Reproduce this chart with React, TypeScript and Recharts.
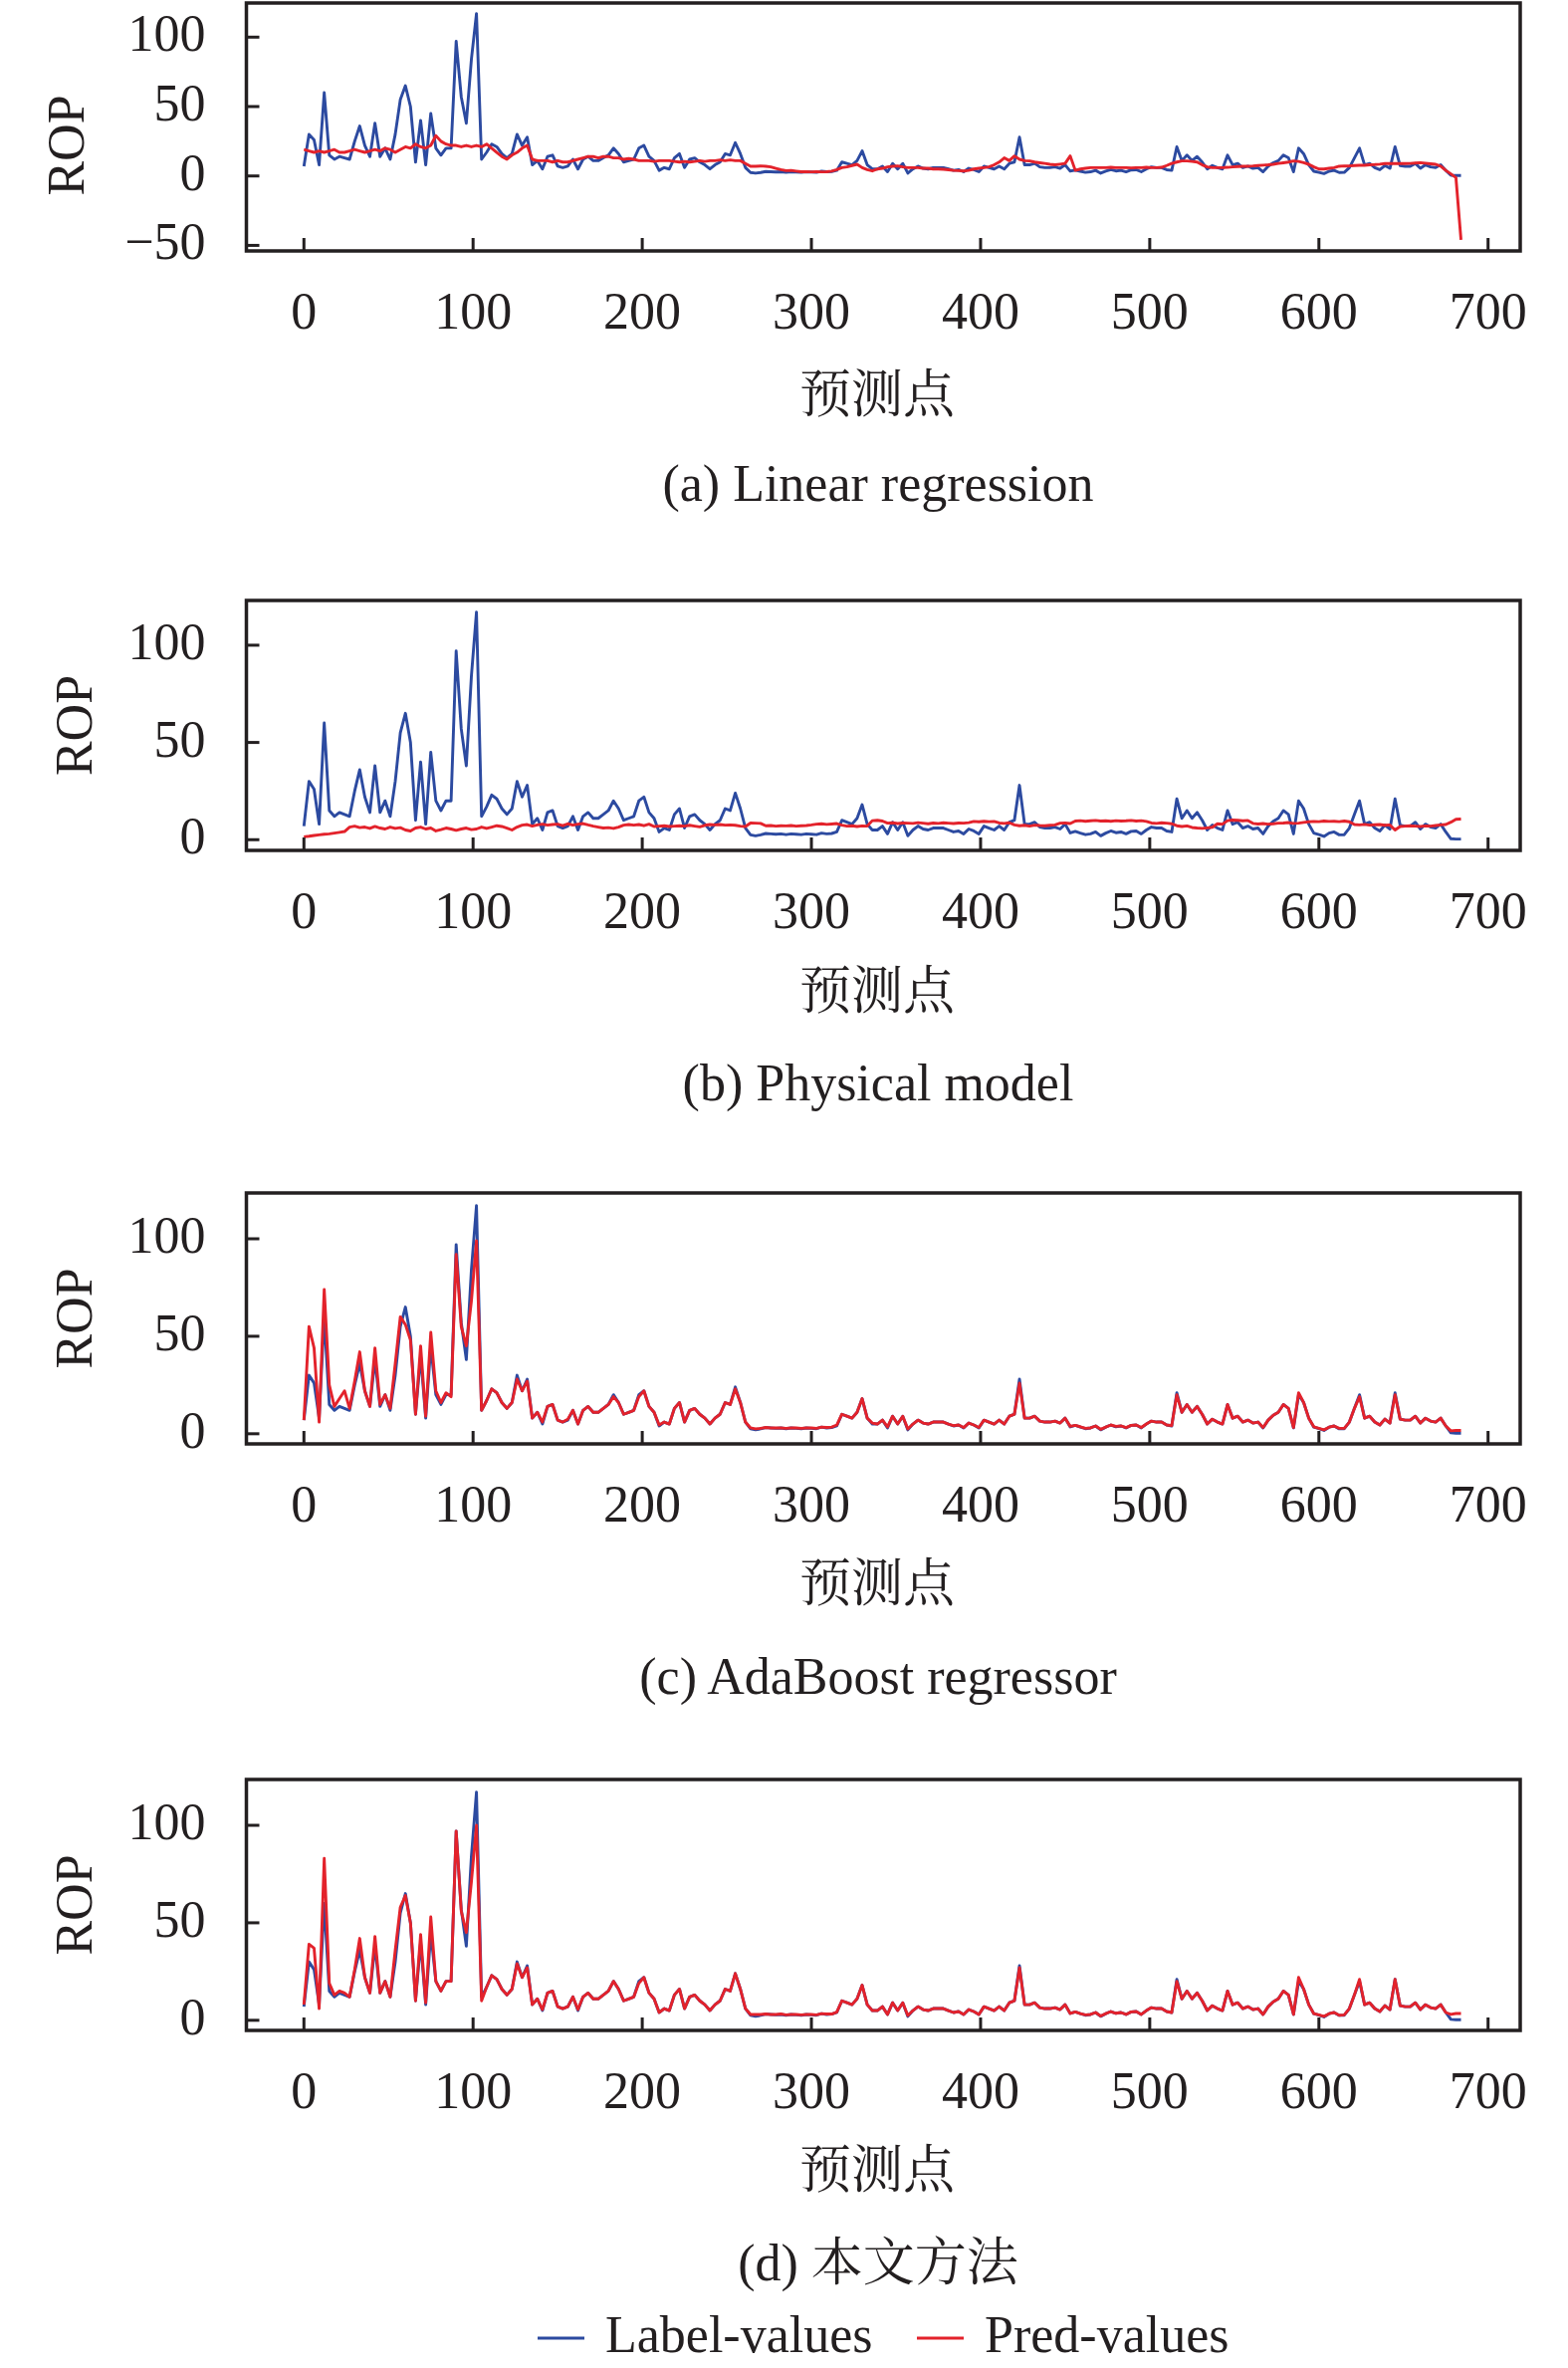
import React from 'react';
import { LineChart, Line, XAxis, YAxis, ReferenceArea, Legend } from 'recharts';

const STEP = 3;

const labelValues = [
  7, 30, 26, 8, 60, 15, 12, 14, 13, 12,
  25, 36, 22, 14, 38, 14, 20, 12, 30, 55,
  65, 50, 10, 40, 8, 45, 20, 15, 20, 20,
  97, 57, 38, 84, 117, 12, 17, 23, 21, 16,
  13, 16, 30, 22, 28, 8, 11, 5, 14, 15,
  7, 6, 7, 12, 5, 12, 14, 11, 11, 13,
  15, 20, 16, 10, 11, 12, 20, 22, 14, 11,
  4, 6, 5, 13, 16, 6, 12, 13, 10, 8,
  5, 8, 10, 16, 15, 24, 16, 6, 2.5, 2,
  2.5, 3.2, 3, 2.8, 3, 2.6, 3, 2.8, 2.6, 3,
  2.8, 2.6, 3.4, 3, 3.2, 4, 10, 9, 8, 11,
  18, 8, 5, 5, 7, 3, 9, 5, 9, 2,
  5, 7, 5.5, 5, 6, 6, 6, 5, 4, 4.5,
  3, 5.5, 4.5, 3, 7, 6, 5, 7, 5, 9,
  10, 28, 8, 8, 9, 6.5, 6, 6, 6.5, 5.5,
  8, 3.5, 4.3, 3.4, 2.6, 3, 4, 2, 3.4, 4.5,
  3.6, 4, 3, 4.3, 4.5, 3, 5, 6.5, 6, 6,
  4.5, 4, 21, 11, 15, 11, 14, 10, 5, 7.5,
  6, 5, 15, 8, 9, 6, 7, 5.5, 6, 3,
  7, 9.5, 11, 15, 13, 3, 20, 16, 8, 3.4,
  2.6, 1.7, 3.4, 4, 2.5, 2.6, 6, 13, 20, 8,
  9, 6, 4.5, 7.5, 5.5, 21, 7.5, 7, 7, 9,
  5.5, 8, 6.5, 6, 8, 4, 0.5, 0.3, 0.3,
];

const predLinear = [
  19, 18, 17, 18, 17, 18, 19, 17, 17, 18,
  19, 18, 17, 18, 19, 18, 20, 19, 17, 19,
  21, 20, 23, 21, 20, 22, 29, 25, 23, 22,
  22, 21, 22, 21, 22, 21, 23, 20, 17, 14,
  12, 15, 17, 20, 22, 12, 11, 11, 11, 10,
  11, 10, 10, 11, 12, 13, 14, 14, 13, 14,
  14, 13, 13, 12, 12.5, 12, 11, 11, 11, 10.5,
  11, 11, 11, 10.5, 10, 10.5, 10, 10.5, 11, 10.5,
  11, 11, 11.5, 11, 11.5, 11, 11, 9, 7, 7,
  7.2, 7, 6.5, 5.5, 4.5, 3.8, 4, 3.5, 3, 3,
  2.9, 3, 2.9, 3, 3.5, 4.5, 6, 6.5, 7.5, 8.4,
  6, 4.5, 3.6, 5, 5.5, 6.5, 7, 7.2, 6.5, 6,
  6, 6, 5.5, 5.5, 5, 5, 4.8, 4.5, 4, 3.8,
  3.6, 4, 5, 5.5, 6, 6.5, 8, 10, 13, 11,
  14.4, 12, 11, 10.8, 10, 9.5, 9, 8.4, 8, 8.5,
  9, 14.4, 4, 5, 5.5, 6, 6, 6, 6, 6.2,
  6, 6, 6, 5.8, 6, 6, 6.2, 6, 6, 6.2,
  7.5, 9, 10, 10.8, 10.8, 10.5, 10, 8, 6.5, 6,
  6, 6, 6.2, 6.5, 6.8, 7, 7, 7.2, 7.5, 7.8,
  8, 8.4, 9, 9.5, 10, 10.8, 10.5, 9.5, 8.4, 6.5,
  5, 5, 5.5, 6, 7, 7.2, 7.2, 7.5, 7.7, 7.7,
  8, 8.2, 8.5, 8.9, 8.9, 9, 8.9, 8.9, 9, 9.3,
  9.6, 9.2, 8.8, 8.4, 7, 4, 1.5, -1.2, -46,
];

const predPhysical = [
  1.5, 1.8, 2.2, 2.5, 2.8, 3, 3.4, 3.8, 4.2, 6.5,
  7, 6.2, 6.5, 5.8, 6.8, 6, 5.5, 6.5, 5.8, 6.2,
  5, 4.5, 6, 6.5, 5.5, 6, 4.5, 5.2, 6, 5.5,
  4.8, 5.5, 6, 5.2, 5.5, 6.5, 5.8, 6.5, 7.2, 6.8,
  6, 5, 6.5, 7.5, 7.8, 7, 7.6, 8, 7.5, 7.8,
  8, 7.2, 8.2, 7.5, 8, 8.3, 7.6, 7, 6.5, 6,
  6.2, 5.8, 6.5, 7.5, 7.8, 7.5, 7.8, 7.2, 8, 6.8,
  7, 7.2, 6.8, 7, 7.2, 7, 7.4, 7, 6.6, 7.4,
  7.8, 7.6, 7.8, 7.5, 7.6, 7.4, 7, 6.8, 8.6, 8.5,
  8.4, 7.2, 7.3, 7, 7.2, 7.1, 7.3, 7, 7.2, 7.3,
  7.6, 8, 8.2, 7.9, 8.1, 8.3, 7.5, 7, 7.2, 6.8,
  7.1, 7, 9.8, 10, 9.6, 8.5, 8.7, 8.3, 8.6, 8.5,
  8.4, 8.8, 8.5, 8.2, 8.6, 8.4, 8.7, 8.5, 8.3, 8.6,
  8.5, 8.8, 9.4, 9.2, 9.5, 9.3, 9.4, 8.6, 8.4, 8.7,
  7.6, 7.2, 7.4, 7, 7.5, 7.3, 7.2, 7.4, 7.6, 8.5,
  8.6, 8.3, 9.6, 9.8, 9.5, 9.7, 9.9, 9.6, 9.7, 9.5,
  9.8, 9.6, 9.7, 9.9, 9.6, 9.8, 9.4, 8.6, 8.4, 8.7,
  8.5, 8.2, 7.2, 6.8, 7.1, 6.3, 6, 5.8, 6.1, 6.4,
  8.2, 8, 9.8, 10.1, 10, 9.7, 9.9, 8.4, 8.1, 8.3,
  8, 8.2, 8.5, 8.6, 8.8, 8.4, 8.5, 8.9, 9.2, 9.4,
  9.3, 9.6, 9.4, 9.5, 9.3, 9.6, 9.2, 7.8, 7.6, 7.9,
  7.5, 7.7, 7.8, 7.4, 7.6, 5, 6.8, 7, 7.2, 7,
  6.8, 7.1, 7, 7.3, 7.6, 7.8, 9, 10.5, 10.6,
];

const predAdaBoost = [
  7, 55, 44, 6, 74, 25, 14, 18, 22, 13,
  27, 42, 22, 14, 44, 15, 20, 13, 36, 60,
  56, 48, 10, 45, 9, 52, 22, 16, 21, 19,
  92, 55, 45, 68, 99, 12, 17, 23, 21, 16,
  13, 16, 28, 22, 27, 8, 11, 6, 14, 15,
  7, 6, 7.5, 12, 5, 12, 14, 11, 11, 13,
  15, 19, 16, 10, 11, 12, 19, 22, 14, 11,
  4.5, 6, 5, 13, 16, 6, 12, 13, 10, 8,
  5, 8, 10, 16, 15, 23, 16, 6, 3, 2.5,
  2.8, 3.2, 3, 3, 3, 2.8, 3, 3, 2.8, 3,
  3, 2.8, 3.4, 3.2, 3.4, 4.5, 10, 9, 8, 11,
  18, 8, 5.5, 5, 7, 3.5, 9, 5, 9, 2.5,
  5, 7, 5.5, 5, 6, 6, 6, 5, 4.2, 4.5,
  3.2, 5.5, 4.5, 3.2, 7, 6, 5, 7, 5, 9,
  10, 26, 8, 8, 9, 6.5, 6, 6, 6.5, 5.5,
  8, 3.8, 4.3, 3.6, 2.8, 3, 4, 2.3, 3.4, 4.5,
  3.8, 4, 3.2, 4.3, 4.5, 3.2, 5, 6.5, 6, 6,
  4.5, 4.2, 20, 11, 15, 11, 14, 10, 5, 7.5,
  6, 5, 15, 8, 9, 6, 7, 5.5, 6, 3.2,
  7, 9.5, 11, 15, 13, 3.2, 21, 16, 8, 3.6,
  2.8, 2, 3.4, 4, 2.8, 2.8, 6, 13, 19, 8,
  9, 6, 4.5, 7.5, 5.5, 20, 7.5, 7, 7, 9,
  5.5, 8, 6.5, 6, 8, 4, 1.5, 1.7, 1.7,
];

const predOurs = [
  8, 39, 37, 6, 83, 19, 13, 15, 14, 12,
  26, 42, 22, 14, 43, 14, 20, 12, 36, 58,
  64, 50, 10, 44, 9, 53, 20, 15, 20, 20,
  97, 56, 45, 71, 100, 10, 17, 23, 21, 16,
  13, 16, 29, 22, 27, 8, 11, 5.5, 14, 15,
  7, 6, 7, 12, 5.5, 12, 14, 11, 11, 13,
  15, 20, 16, 10, 11, 12, 19, 22, 14, 11,
  4, 6, 5, 13, 16, 6, 12, 13, 10, 8,
  5, 8, 10, 16, 15, 24, 16, 6, 3, 3,
  3, 3.2, 3, 3, 3.2, 2.8, 3, 3, 2.8, 3,
  3, 2.8, 3.4, 3.2, 3.2, 4.2, 10, 9, 8, 11,
  18, 8, 5, 5, 7, 3, 9, 5, 9, 2.5,
  5, 7, 5.5, 5, 6, 6, 6, 5, 4, 4.5,
  3, 5.5, 4.5, 3, 7, 6, 5, 7, 5, 9,
  10, 27, 8, 8, 9, 6.5, 6, 6, 6.5, 5.5,
  8, 3.5, 4.3, 3.4, 2.8, 3, 4, 2.2, 3.4, 4.5,
  3.6, 4, 3, 4.3, 4.5, 3, 5, 6.5, 6, 6,
  4.5, 4, 20, 11, 15, 11, 14, 10, 5, 7.5,
  6, 5, 15, 8, 9, 6, 7, 5.5, 6, 3,
  7, 9.5, 11, 15, 13, 3, 22, 16, 8, 3.4,
  2.8, 2, 3.4, 4, 2.6, 2.8, 6, 13, 21, 8,
  9, 6, 4.5, 7.5, 5.5, 21, 7.5, 7, 7, 9,
  5.5, 8, 6.5, 6, 8, 4, 3, 3.5, 3.5,
];

const xTicks = [0, 100, 200, 300, 400, 500, 600, 700];
const yTicksA = [-50, 0, 50, 100];
const yTicksB = [0, 50, 100];
const captions = ['(a) Linear regression', '(b) Physical model', '(c) AdaBoost regressor', '(d) 本文方法'];
const xTitle = '预测点';
const yTitle = 'ROP';
const seriesNames = ['Label-values', 'Pred-values'];

const BLUE = '#2c4aa0';
const RED = '#e3222b';
const INK = '#231f20';
const SERIF = '"Liberation Serif", "Times New Roman", "Noto Serif CJK SC", "Noto Sans CJK SC", serif';
const FS = 52;

const panels = [
  { pred: predLinear, plotTop: 3, plotH: 249, yDomain: [-54, 124.6], yTicks: yTicksA, ropX: 66, ropY: 146, titleDy: 144, height: 560 },
  { pred: predPhysical, plotTop: 603, plotH: 251, yDomain: [-5.5, 123], yTicks: yTicksB, ropX: 74, ropY: 0, titleDy: 141, height: 560 },
  { pred: predAdaBoost, plotTop: 1197.5, plotH: 252, yDomain: [-5.2, 123.5], yTicks: yTicksB, ropX: 74, ropY: 0, titleDy: 140, height: 560 },
  { pred: predOurs, plotTop: 1787, plotH: 252, yDomain: [-5.2, 123.5], yTicks: yTicksB, ropX: 74, ropY: 0, titleDy: 140, height: 592 },
];

const MARGIN_TOP = 3;
const PLOT_LEFT = 247.5;
const PLOT_RIGHT = 1527;
const Y_AXIS_W = 100;
const X_AXIS_H = 30;

const XTick = (props: any) => {
  const { x, y, payload } = props;
  return (
    <g>
      <line x1={x} x2={x} y1={y} y2={y - 13} stroke={INK} strokeWidth={3} />
      <text x={x} y={y + 78} textAnchor="middle" fontFamily={SERIF} fontSize={FS} fill={INK}>
        {payload.value}
      </text>
    </g>
  );
};

const YTick = (props: any) => {
  const { x, y, payload } = props;
  const v = payload.value < 0 ? `\u2212${Math.abs(payload.value)}` : `${payload.value}`;
  return (
    <g>
      <line x1={x} x2={x + 13} y1={y} y2={y} stroke={INK} strokeWidth={3} />
      <text x={x - 41} y={y + 14} textAnchor="end" fontFamily={SERIF} fontSize={FS} fill={INK}>
        {v}
      </text>
    </g>
  );
};

const LegendBox = (props: any) => {
  const items = props.payload || [];
  const starts = [540, 921];
  return (
    <svg width={1575} height={74} style={{ display: 'block' }}>
      {items.map((it: any, i: number) => (
        <g key={it.value}>
          <line x1={starts[i]} x2={starts[i] + 47} y1={46} y2={46} stroke={it.color} strokeWidth={3} />
          <text x={starts[i] + 68} y={60} fontFamily={SERIF} fontSize={FS} fill={INK}>
            {it.value}
          </text>
        </g>
      ))}
    </svg>
  );
};

const Panel = ({ idx }: { idx: number }) => {
  const p = panels[idx];
  const rows = labelValues.map((v, i) => ({ x: i * STEP, label: v, pred: p.pred[i] }));
  const plotBottom = MARGIN_TOP + p.plotH;
  const ropY = p.ropY || MARGIN_TOP + p.plotH / 2;
  const isLast = idx === panels.length - 1;
  return (
    <div style={{ position: 'absolute', left: 0, top: p.plotTop - MARGIN_TOP }}>
      <LineChart
        width={1575}
        height={p.height}
        data={rows}
        margin={{
          top: MARGIN_TOP,
          right: 1575 - PLOT_RIGHT,
          left: PLOT_LEFT - Y_AXIS_W,
          bottom: p.height - MARGIN_TOP - p.plotH - X_AXIS_H,
        }}
      >
        <ReferenceArea
          x1={-34}
          x2={719}
          y1={p.yDomain[0]}
          y2={p.yDomain[1]}
          fill="none"
          stroke={INK}
          strokeWidth={3.5}
          ifOverflow="visible"
        />
        <XAxis
          type="number"
          dataKey="x"
          domain={[-34, 719]}
          ticks={xTicks}
          interval={0}
          allowDataOverflow
          axisLine={false}
          tickLine={false}
          tickSize={0}
          tickMargin={0}
          height={X_AXIS_H}
          tick={<XTick />}
          label={{
            content: () => (
              <g>
                <text x={881} y={plotBottom + p.titleDy} textAnchor="middle" dominantBaseline="central"
                  fontFamily={SERIF} fontSize={FS} fill={INK}>{xTitle}</text>
                <text x={882} y={plotBottom + 251} textAnchor="middle"
                  fontFamily={SERIF} fontSize={FS} fill={INK}>{captions[idx]}</text>
              </g>
            ),
          }}
        />
        <YAxis
          type="number"
          domain={p.yDomain}
          ticks={p.yTicks}
          interval={0}
          allowDataOverflow
          axisLine={false}
          tickLine={false}
          tickSize={0}
          tickMargin={0}
          width={Y_AXIS_W}
          tick={<YTick />}
          label={{
            content: () => (
              <text x={p.ropX} y={ropY} transform={`rotate(-90 ${p.ropX} ${ropY})`} textAnchor="middle"
                dominantBaseline="central" fontFamily={SERIF} fontSize={FS} fill={INK}>{yTitle}</text>
            ),
          }}
        />
        <Line type="linear" dataKey="label" name={seriesNames[0]} stroke={BLUE} strokeWidth={2.9}
          strokeLinejoin="round" dot={false} activeDot={false} isAnimationActive={false} />
        <Line type="linear" dataKey="pred" name={seriesNames[1]} stroke={RED} strokeWidth={2.9}
          strokeLinejoin="round" dot={false} activeDot={false} isAnimationActive={false} />
        {isLast && (
          <Legend
            layout="horizontal"
            verticalAlign="middle"
            align="center"
            wrapperStyle={{ position: 'absolute', left: 0, top: 518, width: 1575, height: 74 }}
            content={<LegendBox />}
          />
        )}
      </LineChart>
    </div>
  );
}

export default function App() {
  return (
    <div style={{ position: 'absolute', left: 0, top: 0, width: 1575, height: 2378, background: '#fff', overflow: 'hidden' }}>
      {panels.map((_, i) => (
        <Panel key={i} idx={i} />
      ))}
    </div>
  );
}
